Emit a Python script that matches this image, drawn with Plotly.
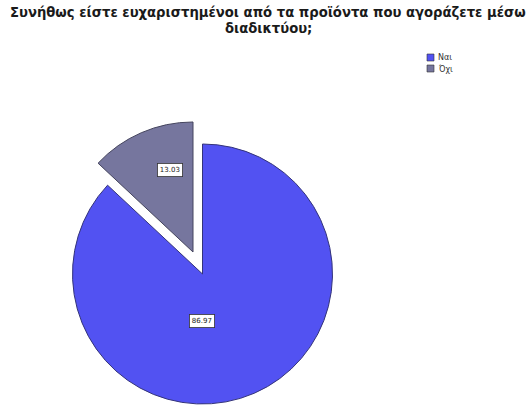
import plotly.graph_objects as go

# Survey answers and their percentages
labels = ["Ναι", "Όχι"]
percent = [86.97, 13.03]
colors = ["#5252f2", "#76769e"]
edge_colors = ["#34347a", "#45455e"]
title_lines = ["Συνήθως είστε ευχαριστημένοι από τα προϊόντα που αγοράζετε μέσω",
               "διαδικτύου;"]

W, H = 531, 405


def px_dom(cx, cy, r):
    """Pie domain (paper units) for a pie centred at pixel (cx, cy) with radius r."""
    return dict(x=[(cx - r) / W, (cx + r) / W], y=[1 - (cy + r) / H, 1 - (cy - r) / H])


def px(x, y):
    return x / W, 1 - y / H


fig = go.Figure()

# Main slice (Ναι) drawn in place; the other slice left invisible
fig.add_trace(go.Pie(
    labels=labels, values=percent, sort=False, direction="clockwise", rotation=0,
    marker=dict(colors=[colors[0], "rgba(0,0,0,0)"],
                line=dict(color=[edge_colors[0], "rgba(0,0,0,0)"], width=1)),
    textinfo="none", hoverinfo="label+value", showlegend=False,
    domain=px_dom(202.5, 274, 130),
))

# Exploded slice (Όχι): same pie, shifted outward along its mid-angle
fig.add_trace(go.Pie(
    labels=labels, values=percent, sort=False, direction="clockwise", rotation=0,
    marker=dict(colors=["rgba(0,0,0,0)", colors[1]],
                line=dict(color=["rgba(0,0,0,0)", edge_colors[1]], width=1)),
    textinfo="none", hoverinfo="label+value", showlegend=False,
    domain=px_dom(193, 252, 130),
))

# Value labels in boxes
label_pos = [(202, 328), (157, 170)]
for v, (lx, ly) in zip(percent, label_pos):
    ax, ay = px(lx, ly)
    fig.add_annotation(
        x=ax, y=ay, xref="paper", yref="paper", showarrow=False,
        text=f"{v:.2f}", font=dict(size=7, color="#222", family="DejaVu Sans"),
        bgcolor="white", bordercolor="#333", borderwidth=0.8, borderpad=2,
    )

# Compact legend in the top-right corner
for i, (lab, col) in enumerate(zip(labels, colors)):
    y0 = 54 + i * 11
    fig.add_shape(type="rect", xref="paper", yref="paper",
                  x0=427 / W, x1=434 / W, y0=1 - (y0 + 7) / H, y1=1 - y0 / H,
                  fillcolor=col, line=dict(color="#333", width=0.6))
    tx, ty = px(436, y0 + 3.5)
    fig.add_annotation(x=tx, y=ty, xref="paper", yref="paper", showarrow=False,
                       xanchor="left", yanchor="middle", text=lab,
                       font=dict(size=8, color="#333", family="DejaVu Sans"))

# Two-line title
for line, cy in zip(title_lines, (12, 28.5)):
    tx, ty = px(268, cy)
    fig.add_annotation(x=tx, y=ty, xref="paper", yref="paper", showarrow=False,
                       xanchor="center", yanchor="middle", text=f"<b>{line}</b>",
                       font=dict(family="DejaVu Sans", size=13.2, color="#1a1a1a"))

fig.update_layout(
    width=W, height=H,
    margin=dict(l=0, r=0, t=0, b=0),
    paper_bgcolor="white", plot_bgcolor="white",
    xaxis=dict(visible=False), yaxis=dict(visible=False),
    showlegend=False,
)

fig.write_html("out.html")
